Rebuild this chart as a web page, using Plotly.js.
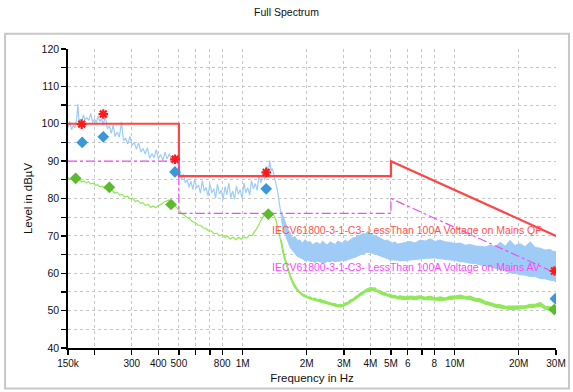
<!DOCTYPE html>
<html>
<head>
<meta charset="utf-8">
<script src="https://cdn.plot.ly/plotly-3.0.1.min.js"></script>
<style>html,body{margin:0;padding:0;background:#fff;}#chart{width:573px;height:392px;}</style>
</head>
<body>
<div id="chart"></div>
<script>
// ---------- data (frequency in MHz, level in dBµV) ----------
const peakLineFreq = [0.150,0.153,0.156,0.159,0.162,0.165,0.167,0.169,0.171,0.174,0.177,0.180,0.184,0.188,0.192,0.196,0.200,0.204,0.208,0.212,0.216,0.220,0.225,0.230,0.235,0.240,0.245,0.250,0.256,0.262,0.268,0.274,0.280,0.287,0.294,0.301,0.308,0.315,0.323,0.331,0.339,0.347,0.355,0.364,0.373,0.382,0.391,0.400,0.410,0.420,0.430,0.440,0.451,0.462,0.473,0.484,0.495,
  0.505,0.515,0.525,0.536,0.547,0.558,0.570,0.582,0.594,0.606,0.619,0.632,0.645,0.658,0.672,0.686,0.700,0.715,0.730,0.745,0.760,0.776,0.792,0.808,0.825,0.842,0.860,0.878,0.896,0.915,0.934,0.953,0.973,0.993,1.014,1.035,1.056,1.078,1.100,1.123,1.146,1.170,1.194,1.219,1.244,1.270,1.296,1.320,1.340,1.360,1.380,1.400,1.430,1.460,1.490,1.520];
const peakLineLevel = [99.0,100.6,98.4,99.5,98.9,101.5,105.3,100.6,101.2,100.3,102.4,101.0,101.6,100.9,102.8,100.4,101.2,100.3,102.0,100.6,101.3,99.8,102.0,98.6,99.4,97.4,99.6,96.6,97.8,96.4,100.5,95.5,96.2,94.6,96.6,94.2,95.0,93.2,94.9,92.4,93.4,91.9,93.6,90.8,92.0,90.9,93.1,90.6,91.8,90.2,92.4,90.6,92.0,90.0,91.5,89.6,90.0,
  87.0,85.0,86.6,84.2,85.1,83.0,84.6,82.4,85.3,82.8,83.6,81.4,84.7,82.0,82.9,80.7,84.0,81.5,82.6,80.1,83.9,81.2,82.2,79.7,83.2,81.0,84.1,80.2,82.0,79.8,83.4,81.1,82.4,80.0,84.2,81.5,82.9,80.9,84.8,82.6,84.0,82.2,86.3,84.2,86.6,84.9,88.6,86.8,90.2,87.4,88.0,86.5,84.8,82.0,78.5,75.2];

const bandFreq = [1.52,1.56,1.6,1.64,1.67,1.72,1.76,1.81,1.86,1.91,1.97,2.02,2.08,2.13,2.19,2.25,2.32,2.38,2.45,2.51,2.58,2.65,2.73,2.8,2.88,2.96,3.04,3.12,3.21,3.3,3.39,3.48,3.58,3.68,3.78,3.88,3.99,4.1,4.21,4.32,4.44,4.56,4.69,4.82,4.95,5.09,5.23,5.37,5.52,5.83,6.16,6.5,6.86,7.25,7.65,8.08,8.53,9.0,9.5,10.0,10.6,11.2,11.8,12.5,13.2,13.9,14.7,15.5,16.4,17.3,18.2,19.2,20.3,21.4,22.7,23.9,25.3,26.7,28.2,29.1,30];
const peakBandHigh = [76.5,74.8,73.0,71.6,70.9,69.3,69.9,68.8,68.9,68.0,69.0,68.3,68.5,67.6,68.1,68.2,67.7,68.6,67.9,67.6,68.4,68.1,67.7,68.6,68.2,68.0,68.9,68.4,68.9,69.4,69.6,69.9,70.2,70.6,70.5,71.1,70.6,70.4,70.0,69.8,69.4,69.2,68.7,68.9,68.3,68.1,68.4,67.8,68.0,68.2,68.5,68.1,68.9,68.6,69.2,68.5,68.9,68.4,68.3,67.9,68.1,67.5,67.7,67.3,67.2,67.0,67.5,67.1,68.3,67.2,68.8,67.4,67.9,67.1,68.4,66.9,66.7,66.2,66.4,65.8,65.9];
const peakBandLow = [74.5,71.5,69.8,68.0,67.0,66.0,65.2,64.5,64.2,63.9,63.3,63.5,63.2,63.2,62.9,63.3,63.0,62.9,62.8,63.2,63.0,63.3,63.1,63.2,63.2,63.5,63.3,63.6,63.8,64.1,64.3,64.6,65.0,65.2,65.4,65.6,65.5,65.4,65.2,64.9,64.7,64.4,64.1,63.9,63.6,63.6,63.4,63.5,63.3,63.4,63.4,63.6,63.8,64.0,64.1,64.1,63.9,63.8,63.5,63.4,63.1,63.0,62.7,62.6,62.2,62.1,61.7,61.4,61.0,60.6,60.1,60.0,59.6,59.5,59.1,59.1,58.6,58.5,58.1,58.1,57.7];

const avgLineFreq = [0.150,0.153,0.156,0.159,0.162,0.166,0.170,0.174,0.178,0.182,0.187,0.192,0.197,0.202,0.207,0.212,0.218,0.224,0.230,0.236,0.242,0.249,0.256,0.263,0.270,0.278,0.286,0.294,0.302,0.311,0.320,0.329,0.338,0.348,0.358,0.368,0.378,0.389,0.400,0.412,0.424,0.436,0.448,0.460,0.473,0.487,0.500,0.515,0.530,0.546,0.562,0.579,0.596,0.614,0.632,0.651,0.670,0.690,0.711,0.732,0.754,0.776,0.800,0.824,0.849,0.874,0.900,0.927,0.955,0.983,1.013,1.043,1.074,1.106,1.139,1.173,1.208,1.244,1.281,1.320,1.350,1.390,1.430,1.470,1.510,1.550];
const avgLineLevel = [85.6,85.1,85.3,84.8,85.2,84.7,84.9,84.4,84.7,84.2,84.5,83.9,84.1,83.5,83.7,83.1,83.3,82.6,82.9,82.0,82.2,81.4,81.7,80.9,81.1,80.4,80.6,79.9,80.1,79.2,79.5,78.7,78.9,78.1,78.4,77.6,78.0,77.5,78.1,78.4,79.0,79.2,79.6,79.1,78.5,77.6,76.9,76.0,75.6,74.9,74.6,73.8,73.6,72.9,72.8,72.1,72.0,71.3,71.3,70.6,70.7,70.0,70.3,69.6,69.9,69.2,69.7,69.0,69.6,69.1,69.7,69.4,70.2,70.1,71.2,72.2,73.8,75.0,75.8,76.2,76.3,75.9,74.4,71.8,69.0,65.5];
const avgBandHigh = [69.0,65.6,63.4,61.2,59.8,58.0,56.9,55.8,55.2,54.5,54.2,53.7,53.7,53.3,53.4,53.0,53.1,52.7,52.6,52.3,52.2,51.9,51.9,51.6,51.7,51.6,52.1,52.2,52.9,53.1,53.8,54.1,54.8,55.0,55.6,55.8,56.2,56.1,56.1,55.5,55.4,54.9,54.9,54.4,54.4,54.1,54.1,53.8,54.0,53.7,53.9,53.8,54.0,53.6,53.9,53.4,53.7,53.4,53.9,53.9,54.2,53.8,53.9,53.3,53.2,52.5,52.2,51.7,51.6,51.2,51.2,51.1,51.2,51.3,51.7,51.7,52.2,51.2,51.1,50.6,50.7];
const avgBandLow = [68.0,64.4,62.4,60.2,59.0,57.2,56.1,55.2,54.6,54.0,53.6,53.3,53.1,52.9,52.7,52.5,52.3,52.1,51.9,51.7,51.4,51.3,51.1,51.0,51.0,51.0,51.4,51.6,52.1,52.5,53.0,53.4,54.0,54.3,54.9,55.1,55.4,55.4,55.3,54.9,54.6,54.2,54.1,53.8,53.7,53.4,53.4,53.1,53.1,52.9,53.1,52.9,53.2,52.9,52.9,52.7,52.7,52.8,53.0,53.1,53.3,53.1,53.0,52.5,52.3,51.7,51.4,50.9,50.7,50.4,50.3,50.3,50.4,50.5,50.8,50.9,51.2,50.3,50.0,49.8,49.7];

const limitFreq = [0.15,0.5,0.5,5,5,30];
const limitQP = [100,100,86,86,90,70];
const limitAV = [90,90,76,76,80,60];

const qpPeakFreq = [0.174,0.220,0.479,1.29,29.5];
const qpPeakLevel = [99.9,102.6,90.5,87.0,60.6];
const qpFreq = [0.175,0.220,0.479,1.29,29.8];
const qpLevel = [95.0,96.5,87.1,82.6,53.2];
const avFreq = [0.163,0.235,0.459,1.32,29.4];
const avLevel = [85.4,83.0,78.4,75.8,50.3];

const tickVals = [0.15,0.2,0.3,0.4,0.5,0.6,0.7,0.8,1,2,3,4,5,6,7,8,10,20,30];
const tickText = ['150k','','300','400','500','','','800','1M','2M','3M','4M','5M','6','','8','10M','20M','30M'];

const qpLabel = 'IECV61800-3-1-C3- LessThan 100A Voltage on Mains QP';
const avLabel = 'IECV61800-3-1-C3- LessThan 100A Voltage on Mains AV';

// ---------- styles ----------
const BLUE = '#9fccf6', GREEN = '#8fe857';
const FONT = 'Liberation Sans, Arial, sans-serif';

const traces = [
  {x: bandFreq, y: peakBandHigh, mode:'lines', line:{color:BLUE, width:1}, hoverinfo:'skip'},
  {x: bandFreq, y: peakBandLow, mode:'lines', line:{color:BLUE, width:1}, fill:'tonexty', fillcolor:BLUE, hoverinfo:'skip'},
  {x: peakLineFreq, y: peakLineLevel, mode:'lines', line:{color:BLUE, width:1.2}},
  {x: bandFreq, y: avgBandHigh, mode:'lines', line:{color:GREEN, width:1}, hoverinfo:'skip'},
  {x: bandFreq, y: avgBandLow, mode:'lines', line:{color:GREEN, width:1}, fill:'tonexty', fillcolor:GREEN, hoverinfo:'skip'},
  {x: avgLineFreq, y: avgLineLevel, mode:'lines', line:{color:GREEN, width:1.2}},
  {x: limitFreq, y: limitQP, mode:'lines', line:{color:'#ff4545', width:2.2}},
  {x: limitFreq, y: limitAV, mode:'lines', line:{color:'#f04cf0', width:1.2, dash:'dashdot'}},
  {x: qpFreq, y: qpLevel, mode:'markers', marker:{symbol:'diamond', size:9, color:'#3a97dc'}},
  {x: avFreq, y: avLevel, mode:'markers', marker:{symbol:'diamond', size:9, color:'#5cbb2c'}},
  {x: qpPeakFreq, y: qpPeakLevel, mode:'markers', marker:{symbol:'asterisk-open', size:8, color:'#ff1a1a', line:{color:'#ff1a1a', width:2.2}}}
];

const gridCol = '#c6c6c6';
const layout = {
  width:573, height:392,
  margin:{l:68, r:17, t:49, b:44},
  paper_bgcolor:'#fff', plot_bgcolor:'#fff',
  showlegend:false,
  font:{family:FONT, color:'#111'},
  title:{text:'Full Spectrum', font:{family:FONT, size:10.5, color:'#111'}, x:0.5, xref:'container', xanchor:'center', y:0.969, yref:'container', yanchor:'middle'},
  xaxis:{type:'log', range:[Math.log10(0.15), Math.log10(30)], tickmode:'array', tickvals:tickVals, ticktext:tickText,
    showgrid:true, gridcolor:gridCol, griddash:'dot', gridwidth:1, zeroline:false,
    showline:true, linecolor:'#000', linewidth:1.5, ticks:'outside', ticklen:5, tickwidth:1.3, tickcolor:'#000',
    tickfont:{family:FONT, size:10, color:'#111'},
    title:{text:'Frequency in Hz', font:{family:FONT, size:11.5, color:'#111'}, standoff:6}},
  yaxis:{range:[40,120], tick0:40, dtick:10,
    showgrid:true, gridcolor:gridCol, griddash:'dot', gridwidth:1, zeroline:false,
    showline:true, linecolor:'#000', linewidth:1.8, ticks:'outside', ticklen:5, tickwidth:1.3, tickcolor:'#000',
    minor:{dtick:5, tick0:40, showgrid:true, gridcolor:gridCol, griddash:'dot', gridwidth:1, ticks:'outside', ticklen:5, tickwidth:1.3, tickcolor:'#000'},
    tickfont:{family:FONT, size:10.5, color:'#111'},
    title:{text:'Level in dBµV', font:{family:FONT, size:11.5, color:'#111'}, standoff:6}},
  annotations:[
    {x:Math.log10(1.34), y:71.5, xref:'x', yref:'y', text:qpLabel, showarrow:false, xanchor:'left', yanchor:'middle', font:{family:FONT, size:10.5, color:'#ff5252'}},
    {x:Math.log10(1.34), y:61.6, xref:'x', yref:'y', text:avLabel, showarrow:false, xanchor:'left', yanchor:'middle', font:{family:FONT, size:10.5, color:'#ff45ff'}}
  ],
  shapes:[
    {type:'rect', xref:'paper', yref:'paper', x0:-0.129, x1:1.0266, y0:-0.1358, y1:1.0513, line:{color:'#c8c8c8', width:2}, layer:'below'}
  ]
};

Plotly.newPlot('chart', traces, layout, {displayModeBar:false, staticPlot:true});
</script>
</body>
</html>
